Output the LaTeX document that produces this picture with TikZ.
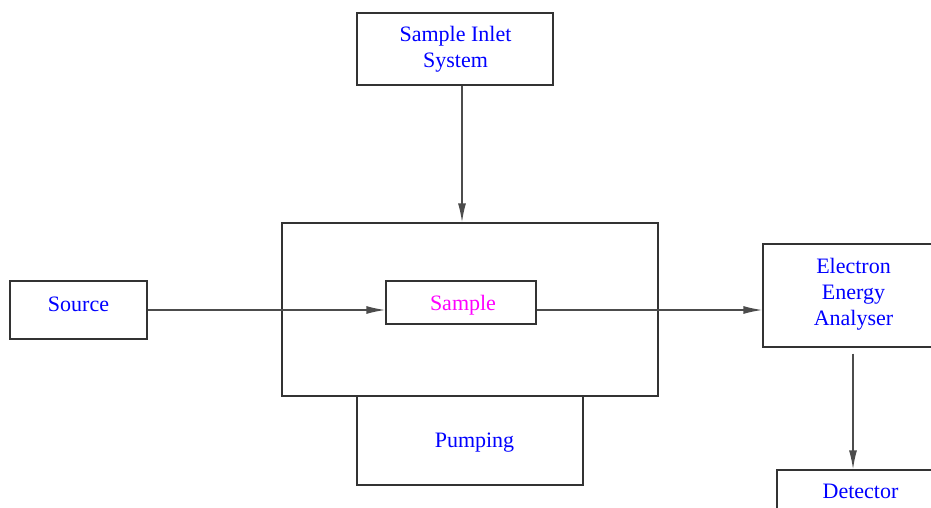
\documentclass[tikz,border=0pt]{standalone}
\usepackage{fontspec}
\setmainfont{Liberation Serif}
\usetikzlibrary{arrows.meta}

\definecolor{labelblue}{RGB}{0,0,255}
\definecolor{labelpink}{RGB}{255,0,255}

\tikzset{
  unit/.style={draw=black!80, line width=0.7pt, inner sep=0pt},
  lbl/.style={align=center, inner sep=0pt, text=labelblue,
    font=\fontsize{11}{13}\selectfont},
  flow/.style={draw=black!70, line width=0.7pt, -{Latex[length=9.5pt,width=4pt]}},
}

\begin{document}
\begin{tikzpicture}[x=0.5pt, y=-0.5pt]
  \useasboundingbox (0,0) rectangle (931,508);

  % boxes
  \node[unit, minimum width=98pt,  minimum height=36pt]   (inlet)    at (455,49)    {};
  \node[unit, minimum width=188pt, minimum height=86.5pt] (chamber)  at (470,309.5) {};
  \node[unit, minimum width=113pt, minimum height=44.5pt] (pumping)  at (470,440.5) {};
  \node[unit, minimum width=68.5pt, minimum height=29pt]  (source)   at (78.5,310)  {};
  \node[unit, minimum width=75pt,  minimum height=21.5pt] (sample)   at (461,302.5) {};
  \node[unit, minimum width=91pt,  minimum height=51.5pt] (analyser) at (854,295.5) {};
  \node[unit, minimum width=84pt,  minimum height=35pt]   (detector) at (861,505)   {};

  % labels
  \node[lbl]                      (inletT)    at (455.5,49.5) {Sample Inlet\\System};
  \node[lbl, anchor=base]         (sourceT)   at (78.5,311)  {Source};
  \node[lbl, anchor=base, text=labelpink] (sampleT) at (463,310) {Sample};
  \node[lbl, anchor=base]         (pumpingT)  at (474.5,447) {Pumping};
  \node[lbl]                      (analyserT) at (853.5,294.5) {Electron\\Energy\\Analyser};
  \node[lbl, anchor=base]         (detectorT) at (860.5,498) {Detector};

  % connectors
  \coordinate (feed) at (462,0);
  \draw[flow] (inlet.south -| feed) -- (chamber.north -| feed);
  \draw[flow] (source.east) -- (source.east -| sample.west);
  \draw[flow] (sample.east |- source.east) -- (analyser.west |- source.east);
  \draw[flow, shorten <=3pt] (analyser.south -| 853,0) -- (detector.north -| 853,0);
\end{tikzpicture}
\end{document}
